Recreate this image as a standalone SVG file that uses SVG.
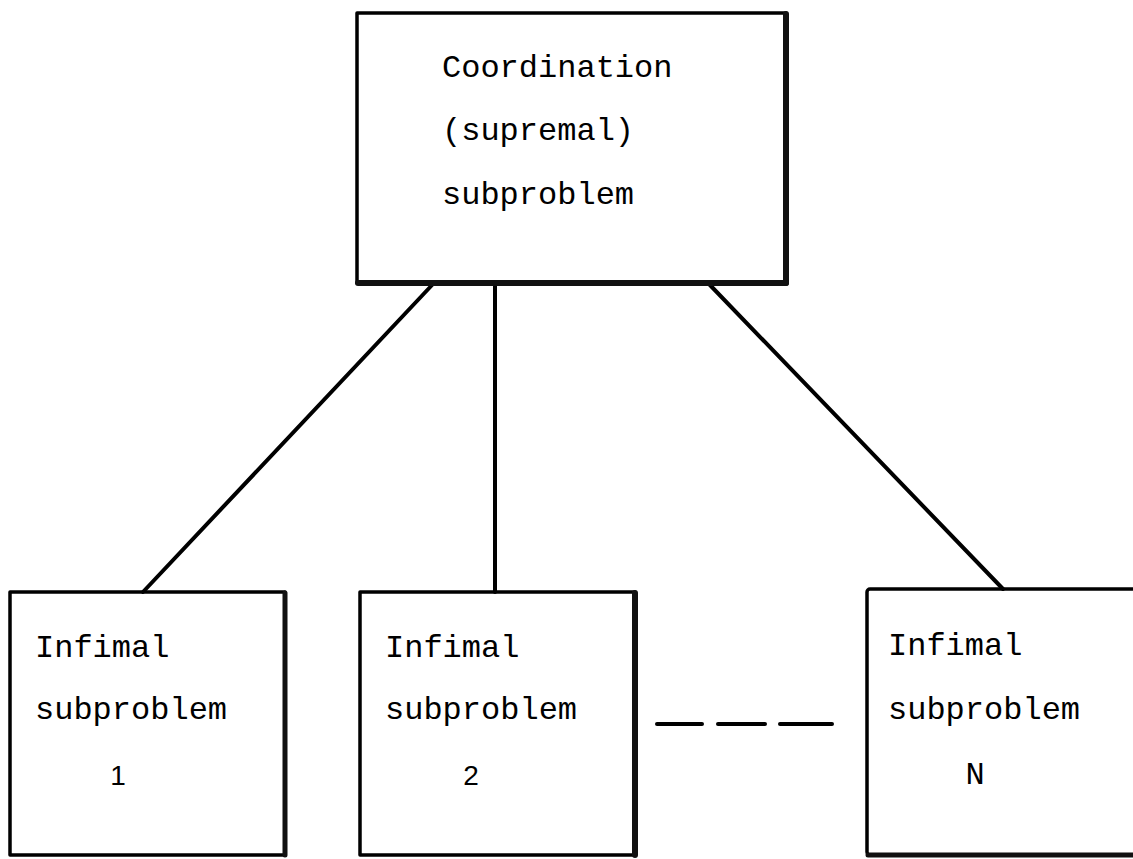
<svg xmlns="http://www.w3.org/2000/svg" width="1133" height="859" viewBox="0 0 1133 859">
  <style>
    .box { fill: none; stroke: #000; stroke-width: 3.5; stroke-linejoin: round; }
    .edge { stroke: #111; stroke-width: 6; stroke-linecap: round; }
    .link { stroke: #000; stroke-width: 4; stroke-linecap: round; fill: none; }
    .dash { stroke: #000; stroke-width: 4; stroke-linecap: round; }
    .tw { font-family: "Liberation Mono", "Courier New", monospace; font-size: 32px; fill: #000; }
    .num { font-family: "Liberation Sans", Arial, sans-serif; font-size: 28px; fill: #000; text-anchor: middle; }
  </style>
  <rect width="1133" height="859" fill="#fff"/>

  <!-- connectors from the coordination box down to the infimal boxes -->
  <g id="connectors">
    <line class="link" x1="433" y1="284" x2="143" y2="592"/>
    <line class="link" x1="495" y1="284" x2="495" y2="592"/>
    <line class="link" x1="709" y1="284" x2="1003" y2="589"/>
    <line class="dash" x1="657" y1="724" x2="702" y2="724"/>
    <line class="dash" x1="718" y1="724" x2="765" y2="724"/>
    <line class="dash" x1="780" y1="724" x2="832" y2="724"/>
  </g>

  <g id="coordination">
    <rect class="box" x="357" y="13" width="429" height="270"/>
    <line class="edge" x1="786" y1="14" x2="786" y2="283"/>
    <line class="edge" x1="358" y1="283" x2="786" y2="283"/>
    <text class="tw" x="442" y="77">Coordination</text>
    <text class="tw" x="442" y="140">(supremal)</text>
    <text class="tw" x="442" y="204">subproblem</text>
  </g>

  <g id="infimal-1">
    <rect class="box" x="10" y="592" width="275" height="263"/>
    <line class="edge" x1="285" y1="593" x2="285" y2="855" style="stroke-width:5"/>
    <text class="tw" x="35" y="657">Infimal</text>
    <text class="tw" x="35" y="719">subproblem</text>
    <text class="num" x="118" y="785">1</text>
  </g>

  <g id="infimal-2">
    <rect class="box" x="360" y="592" width="275" height="263"/>
    <line class="edge" x1="635" y1="593" x2="635" y2="855"/>
    <text class="tw" x="385" y="657">Infimal</text>
    <text class="tw" x="385" y="719">subproblem</text>
    <text class="num" x="471" y="785">2</text>
  </g>

  <g id="infimal-n">
    <rect class="box" x="867" y="589" width="280" height="266" rx="3"/>
    <line class="edge" x1="868" y1="855" x2="1140" y2="855" style="stroke-width:5"/>
    <text class="tw" x="888" y="655">Infimal</text>
    <text class="tw" x="888" y="719">subproblem</text>
    <text class="tw" x="975" y="784" text-anchor="middle">N</text>
  </g>
</svg>
